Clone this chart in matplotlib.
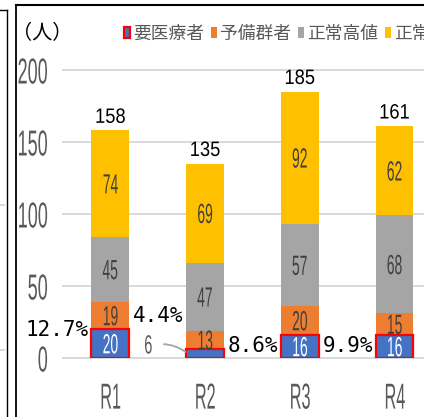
import matplotlib
matplotlib.use('Agg')
import matplotlib.pyplot as plt
from matplotlib import patheffects
from matplotlib.transforms import Affine2D
from matplotlib.lines import Line2D

# 年度ごとの人数
years = ['R1', 'R2', 'R3', 'R4']
series_names = ['要医療者', '予備群者', '正常高値', '正常値']
need_care = [20, 6, 16, 16]
reserve = [19, 13, 20, 15]
high_normal = [45, 47, 57, 68]
normal = [74, 69, 92, 62]
y_ticks = [0, 50, 100, 150, 200]

colors = ['#4472C4', '#ED7D31', '#A5A5A5', '#FFC000']
GRAY = '#595959'
W, H = 424, 417


class Narrow(patheffects.AbstractPathEffect):
    """squeeze glyphs horizontally (Excel-style condensed look)"""
    def __init__(self, sx=0.5, anchor='center'):
        super().__init__()
        self.sx = sx
        self.anchor = anchor

    def draw_path(self, renderer, gc, tpath, affine, rgbFace=None):
        ext = tpath.get_extents()
        if self.anchor == 'right':
            cx = ext.x1
        elif self.anchor == 'left':
            cx = ext.x0
        else:
            cx = (ext.x0 + ext.x1) / 2
        squeeze = Affine2D().translate(-cx, 0).scale(self.sx, 1).translate(cx, 0)
        renderer.draw_path(gc, tpath, squeeze + affine, rgbFace)


fig = plt.figure(figsize=(W / 100, H / 100), dpi=100)
ax = fig.add_axes([63 / W, 59 / H, 378.8 / W, 288 / H])

x = range(len(years))
stack = [need_care, reserve, high_normal, normal]
totals = [sum(v) for v in zip(*stack)]
bottom = [0] * len(years)
bars = []
for k, (vals, c) in enumerate(zip(stack, colors)):
    if k == 0:
        b = ax.bar(x, vals, 0.4, bottom=bottom, color=c, edgecolor='#FF0000',
                   linewidth=1.6, zorder=3)
    else:
        b = ax.bar(x, vals, 0.4, bottom=bottom, color=c, linewidth=0, zorder=2)
    bars.append(b)
    for i, v in enumerate(vals):
        if v < 10:
            # too thin, label goes outside with a leader line
            ax.annotate(str(v), xy=(i - 0.205, bottom[i] + v * 0.7),
                        xytext=(i - 0.6, bottom[i] + 8), ha='center', va='center',
                        fontsize=19, color=GRAY, family='Liberation Sans',
                        path_effects=[Narrow(0.55)],
                        arrowprops=dict(arrowstyle='-', color='#A5A5A5', lw=1.3,
                                        shrinkA=4, shrinkB=0,
                                        connectionstyle='arc3,rad=-0.25'))
        else:
            t = ax.annotate(str(v), xy=(i, bottom[i] + v / 2), xytext=(0, -7),
                            textcoords='offset points', ha='center', va='baseline',
                            fontsize=20, family='Liberation Sans',
                            color='white' if k == 0 else '#404040', zorder=5)
            t.set_path_effects([Narrow(0.5)])
    bottom = [b0 + v for b0, v in zip(bottom, vals)]

# 合計
for i, tot in enumerate(totals):
    t = ax.annotate(str(tot), xy=(i, tot), xytext=(0, 5.5), textcoords='offset points',
                    ha='center', va='baseline', fontsize=15, family='Liberation Sans',
                    color='black', annotation_clip=False)
    t.set_path_effects([Narrow(0.88)])

# 要医療者の割合
pct_y = [19.5, 29, 8.5, 8.5]
for i, (n, tot) in enumerate(zip(need_care, totals)):
    ax.text(i - 0.225, pct_y[i], f'{n / tot * 100:.1f}%', ha='right', va='center',
            fontsize=15, family='DejaVu Sans Mono', color='black', zorder=6)

ax.set_xlim(-0.5, 3.5)
ax.set_ylim(0, 200)
ax.set_xticks(list(x))
ax.set_xticklabels(years, fontsize=26, family='Liberation Sans', color=GRAY)
ax.set_yticks(y_ticks)
ax.set_yticklabels([str(v) for v in y_ticks], fontsize=26, family='Liberation Sans',
                   color=GRAY)
for lbl in ax.get_xticklabels():
    lbl.set_path_effects([Narrow(0.45)])
for lbl in ax.get_yticklabels():
    lbl.set_path_effects([Narrow(0.5, 'right')])
ax.tick_params(axis='y', length=0, pad=10.5)
ax.tick_params(axis='x', length=0, pad=17)
for s in ax.spines.values():
    s.set_visible(False)
ax.set_axisbelow(True)
ax.grid(axis='y', color='#D9D9D9', lw=1.4)
for gl in ax.get_ygridlines():
    gl.set_clip_on(False)

fig.text(12 / W, 1 - 34 / H, '（人）', fontsize=14.5, family='Noto Sans CJK JP',
         color='black', va='center', ha='left')

fig.legend(bars, series_names, loc='upper left', bbox_to_anchor=(124 / W, 1 - 25 / H),
           ncol=4, frameon=False, handlelength=0.35, handleheight=0.55,
           handletextpad=0.15, columnspacing=0.4, borderpad=0, borderaxespad=0,
           labelcolor=GRAY, prop={'family': 'Noto Sans CJK JP', 'size': 12.8})

# 枠線
fig.add_artist(Line2D([16 / W, 16 / W], [0, 1 - 5 / H], color='black', lw=1.3))
fig.add_artist(Line2D([16 / W, 1], [1 - 5 / H, 1 - 5 / H], color='black', lw=1.5))
fig.add_artist(Line2D([7 / W, 7 / W], [0, 1 - 10 / H], color='black', lw=1.0))
fig.add_artist(Line2D([0, 7 / W], [1 - 10 / H, 1 - 10 / H], color='black', lw=1.0))
for gy in (205, 350):
    fig.add_artist(Line2D([0, 4 / W], [1 - gy / H, 1 - gy / H], color='#D9D9D9', lw=1.4))

fig.savefig('out.png', dpi=100)
